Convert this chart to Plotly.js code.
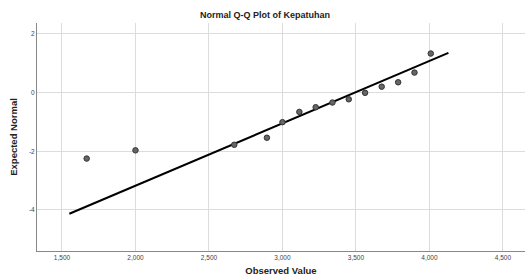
<!DOCTYPE html>
<html><head><meta charset="utf-8">
<script src="https://cdn.plot.ly/plotly-3.0.1.min.js"></script>
<style>html,body{margin:0;padding:0;background:#fff;}#chart{width:525px;height:279px;}</style>
</head><body><div id="chart"></div>
<script>
const observed = [1668, 2000, 2672, 2894, 3000, 3115, 3226, 3340, 3451, 3562, 3675, 3787, 3898, 4009];
const expected = [-2.25, -1.97, -1.78, -1.54, -1.01, -0.66, -0.50, -0.34, -0.23, -0.01, 0.20, 0.35, 0.68, 1.33];
const lineX = [1550, 4129];
const lineY = [-4.13, 1.35];
const xTicks = [1500, 2000, 2500, 3000, 3500, 4000, 4500];
const xTickLabels = ["1,500", "2,000", "2,500", "3,000", "3,500", "4,000", "4,500"];
const yTicks = [2, 0, -2, -4];
const yTickLabels = ["2", "0", "-2", "-4"];

const traces = [
  {x: lineX, y: lineY, mode: 'lines', line: {color: '#000', width: 2}, hoverinfo: 'skip', showlegend: false},
  {x: observed, y: expected, mode: 'markers', marker: {color: '#666', size: 5.5, line: {color: '#333', width: 1}}, showlegend: false}
];
const layout = {
  width: 525, height: 279,
  margin: {l: 37, r: 0, t: 23, b: 28},
  paper_bgcolor: '#fff', plot_bgcolor: '#fff',
  font: {family: 'Liberation Sans, Arial, sans-serif', color: '#333'},
  title: {text: '<b>Normal Q-Q Plot of Kepatuhan</b>', x: 0.505, xanchor: 'center', y: 0.945, yanchor: 'middle', font: {size: 9, color: '#222'}},
  xaxis: {
    range: [1330, 4650], tickvals: xTicks, ticktext: xTickLabels, tickfont: {size: 6.5, color: '#444'},
    showgrid: true, gridcolor: '#dcdcdc', gridwidth: 1, zeroline: false,
    showline: true, linecolor: '#888', linewidth: 1, ticks: '', ticklen: 0,
    title: {text: '<b>Observed Value</b>', font: {size: 9.5, color: '#222'}, standoff: 7}
  },
  yaxis: {
    range: [-5.4, 2.37], tickvals: yTicks, ticktext: yTickLabels, tickfont: {size: 6.5, color: '#444'},
    showgrid: true, gridcolor: '#dcdcdc', gridwidth: 1, zeroline: false,
    showline: true, linecolor: '#888', linewidth: 1, ticks: '', ticklen: 0,
    title: {text: '<b>Expected Normal</b>', font: {size: 9.5, color: '#222'}, standoff: 9}
  }
};
Plotly.newPlot('chart', traces, layout, {displayModeBar: false, staticPlot: true});
</script>
</body></html>
